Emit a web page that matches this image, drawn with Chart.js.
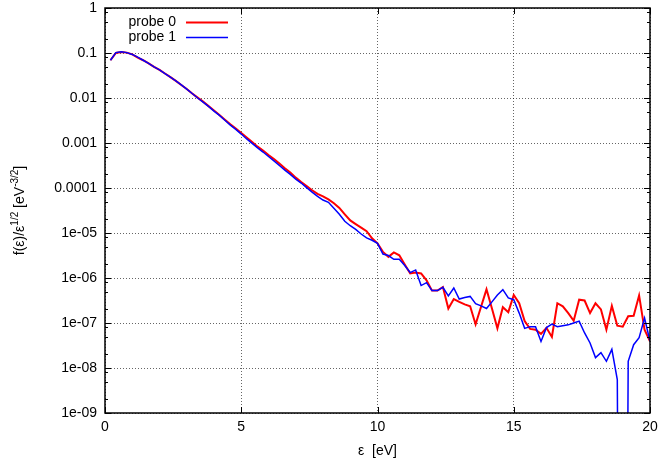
<!DOCTYPE html>
<html>
<head>
<meta charset="utf-8">
<script src="https://cdn.jsdelivr.net/npm/chart.js@4/dist/chart.umd.min.js"></script>
<style>
  html, body { margin: 0; padding: 0; background: #fff; }
  #wrap { width: 660px; height: 465px; position: relative; }
</style>
</head>
<body>
<div id="wrap"><canvas id="c" width="660" height="465"></canvas></div>
<script>
// Energy grid [eV]
const energy = [
  0.2, 0.4, 0.6, 0.8, 1.0, 1.2, 1.4, 1.6, 1.8, 2.0,
  2.2, 2.4, 2.6, 2.8, 3.0, 3.2, 3.4, 3.6, 3.8, 4.0,
  4.2, 4.4, 4.6, 4.8, 5.0, 5.2, 5.4, 5.6, 5.8, 6.0,
  6.2, 6.4, 6.6, 6.8, 7.0, 7.2, 7.4, 7.6, 7.8, 8.0,
  8.2, 8.4, 8.6, 8.8, 9.0, 9.2, 9.4, 9.6, 9.8, 10.0,
  10.2, 10.4, 10.6, 10.8, 11.0, 11.2, 11.4, 11.6, 11.8, 12.0,
  12.2, 12.4, 12.6, 12.8, 13.0, 13.2, 13.4, 13.6, 13.8, 14.0,
  14.2, 14.4, 14.6, 14.8, 15.0, 15.2, 15.4, 15.6, 15.8, 16.0,
  16.2, 16.4, 16.6, 16.8, 17.0, 17.2, 17.4, 17.6, 17.8, 18.0,
  18.2, 18.4, 18.6, 18.8, 19.0, 19.2, 19.4, 19.6, 19.8, 20.0
];

// f(eps)/sqrt(eps) [eV^-3/2], probe 0
const probe0 = [
  6.9e-2, 1.0e-1, 1.05e-1, 1.02e-1, 9.3e-2, 7.9e-2, 6.9e-2, 5.9e-2, 4.9e-2, 4.2e-2,
  3.5e-2, 2.9e-2, 2.4e-2, 1.95e-2, 1.58e-2, 1.26e-2, 1.02e-2, 8.3e-3, 6.6e-3, 5.25e-3,
  4.2e-3, 3.3e-3, 2.6e-3, 2.1e-3, 1.66e-3, 1.32e-3, 1.05e-3, 8.3e-4, 6.8e-4, 5.4e-4,
  4.4e-4, 3.5e-4, 2.75e-4, 2.2e-4, 1.7e-4, 1.35e-4, 1.1e-4, 8.9e-5, 7.4e-5, 6.5e-5,
  5.6e-5, 4.6e-5, 3.6e-5, 2.6e-5, 1.9e-5, 1.58e-5, 1.32e-5, 1.1e-5, 7.6e-6, 5.9e-6,
  3.8e-6, 2.95e-6, 3.7e-6, 3.2e-6, 2.0e-6, 1.26e-6, 1.32e-6, 1.26e-6, 8.9e-7, 5.25e-7,
  5.25e-7, 6.3e-7, 2.1e-7, 3.4e-7, 2.95e-7, 2.6e-7, 2.35e-7, 9.3e-8, 2.3e-7, 5.6e-7,
  2.1e-7, 7.6e-8, 2.25e-7, 1.74e-7, 4.2e-7, 2.75e-7, 1.1e-7, 7.4e-8, 7.1e-8, 5.75e-8,
  7.8e-8, 4.9e-8, 2.75e-7, 2.35e-7, 1.66e-7, 1.12e-7, 3.3e-7, 3.16e-7, 1.66e-7, 2.75e-7,
  2.0e-7, 7.1e-8, 2.4e-7, 8.7e-8, 8.3e-8, 1.41e-7, 1.45e-7, 4.1e-7, 7.1e-8, 3.9e-8
];

// f(eps)/sqrt(eps) [eV^-3/2], probe 1 (the 19 eV bin is essentially empty)
const probe1 = [
  6.9e-2, 1.02e-1, 1.07e-1, 1.02e-1, 9.3e-2, 8.1e-2, 6.9e-2, 5.9e-2, 4.9e-2, 4.2e-2,
  3.5e-2, 2.9e-2, 2.4e-2, 1.95e-2, 1.58e-2, 1.26e-2, 1.0e-2, 8.1e-3, 6.5e-3, 5.1e-3,
  4.1e-3, 3.2e-3, 2.5e-3, 2.0e-3, 1.58e-3, 1.23e-3, 9.8e-4, 7.8e-4, 6.3e-4, 5.0e-4,
  4.0e-4, 3.16e-4, 2.5e-4, 2.0e-4, 1.58e-4, 1.29e-4, 1.02e-4, 8.1e-5, 6.5e-5, 5.4e-5,
  4.8e-5, 3.55e-5, 2.6e-5, 1.82e-5, 1.45e-5, 1.2e-5, 9.5e-6, 7.8e-6, 6.9e-6, 5.9e-6,
  3.4e-6, 3.16e-6, 2.6e-6, 2.6e-6, 1.9e-6, 1.32e-6, 1.51e-6, 6.8e-7, 7.9e-7, 5.25e-7,
  5.25e-7, 6.2e-7, 4.0e-7, 6.0e-7, 3.4e-7, 3.7e-7, 3.9e-7, 2.7e-7, 2.4e-7, 2.1e-7,
  2.95e-7, 4.2e-7, 5.5e-7, 3.6e-7, 3.3e-7, 1.66e-7, 7.6e-8, 8.3e-8, 8.3e-8, 3.9e-8,
  7.9e-8, 9.5e-8, 8.3e-8, 8.7e-8, 9.1e-8, 1.0e-7, 1.1e-7, 6.0e-8, 3.6e-8, 1.7e-8,
  2.2e-8, 1.41e-8, 2.6e-8, 5.5e-9, 1e-30, 1.41e-8, 3.3e-8, 4.7e-8, 1.29e-7, 3.9e-8
];

const seriesNames = ['probe 0', 'probe 1'];
const xTickValues = [0, 5, 10, 15, 20];
const xTickLabels = ['0', '5', '10', '15', '20'];
const yTickValues = [1, 0.1, 0.01, 0.001, 1e-4, 1e-5, 1e-6, 1e-7, 1e-8, 1e-9];
const yTickLabels = ['1', '0.1', '0.01', '0.001', '0.0001', '1e-05', '1e-06', '1e-07', '1e-08', '1e-09'];

const FONT = '"Liberation Sans", Arial, Helvetica, sans-serif';
const colors = ['#ff0000', '#0000ff'];
const widths = [2, 1.5];

function pts(vals) {
  return energy.map((e, i) => ({ x: e, y: vals[i] }));
}

// Frame, inward tick marks, legend and axis titles in gnuplot style
const decor = {
  id: 'decor',
  afterDraw(chart) {
    const ctx = chart.ctx;
    const a = chart.chartArea;
    const xs = chart.scales.x, ys = chart.scales.y;
    ctx.save();
    ctx.strokeStyle = '#000';
    ctx.lineWidth = 1;

    // tick marks on all four sides
    ctx.beginPath();
    xTickValues.forEach(v => {
      const px = Math.round(xs.getPixelForValue(v)) + 0.5;
      ctx.moveTo(px, a.bottom); ctx.lineTo(px, a.bottom - 6);
      ctx.moveTo(px, a.top); ctx.lineTo(px, a.top + 6);
    });
    yTickValues.forEach((v, i) => {
      const py = Math.round(ys.getPixelForValue(v)) + 0.5;
      ctx.moveTo(a.left, py); ctx.lineTo(a.left + 6, py);
      ctx.moveTo(a.right, py); ctx.lineTo(a.right - 6, py);
      if (i > 0) {
        [0.8, 0.5, 0.2].forEach(f => {
          const my = Math.round(ys.getPixelForValue(yTickValues[i - 1] * f)) + 0.5;
          ctx.moveTo(a.left, my); ctx.lineTo(a.left + 3, my);
          ctx.moveTo(a.right, my); ctx.lineTo(a.right - 3, my);
        });
      }
    });
    ctx.stroke();

    // border
    ctx.lineWidth = 1.5;
    ctx.strokeRect(a.left, a.top, a.right - a.left, a.bottom - a.top);

    // legend
    ctx.font = '14px ' + FONT;
    ctx.fillStyle = '#000';
    ctx.textAlign = 'right';
    ctx.textBaseline = 'middle';
    seriesNames.forEach((name, i) => {
      const y = 22.5 + i * 15;
      ctx.fillText(name, 176, y);
      ctx.strokeStyle = colors[i];
      ctx.lineWidth = widths[i];
      ctx.beginPath();
      ctx.moveTo(186, y); ctx.lineTo(228, y);
      ctx.stroke();
    });

    // x title
    ctx.fillStyle = '#000';
    ctx.textAlign = 'center';
    ctx.textBaseline = 'middle';
    ctx.font = '14px ' + FONT;
    ctx.fillText('\u03b5  [eV]', (a.left + a.right) / 2, 451);

    // y title with superscripts
    const parts = [
      { t: 'f(\u03b5)/\u03b5', sup: false },
      { t: '1/2', sup: true },
      { t: ' [eV', sup: false },
      { t: '-3/2', sup: true },
      { t: ']', sup: false }
    ];
    const big = '14px ' + FONT, small = '10px ' + FONT;
    let total = 0;
    parts.forEach(p => { ctx.font = p.sup ? small : big; p.w = ctx.measureText(p.t).width; total += p.w; });
    ctx.translate(20, (a.top + a.bottom) / 2);
    ctx.rotate(-Math.PI / 2);
    ctx.textAlign = 'left';
    ctx.textBaseline = 'middle';
    let cx = -total / 2;
    parts.forEach(p => {
      ctx.font = p.sup ? small : big;
      ctx.fillText(p.t, cx, p.sup ? -5 : 0);
      cx += p.w;
    });
    ctx.restore();
  }
};

new Chart(document.getElementById('c'), {
  type: 'line',
  data: {
    datasets: [
      { label: seriesNames[0], data: pts(probe0), borderColor: colors[0], borderWidth: widths[0], order: 2 },
      { label: seriesNames[1], data: pts(probe1), borderColor: colors[1], borderWidth: widths[1], order: 1 }
    ]
  },
  options: {
    responsive: false,
    animation: false,
    layout: { padding: { top: 8, right: 10, left: 0, bottom: 0 } },
    elements: { point: { radius: 0 }, line: { tension: 0, borderJoinStyle: 'miter' } },
    plugins: { legend: { display: false }, tooltip: { enabled: false } },
    scales: {
      x: {
        type: 'linear',
        min: 0, max: 20,
        afterBuildTicks: s => { s.ticks = xTickValues.map(v => ({ value: v })); },
        afterFit: s => { s.height = 52; s.paddingLeft = 0; s.paddingRight = 0; },
        ticks: {
          padding: 6,
          color: '#000',
          font: { family: FONT, size: 14 },
          maxRotation: 0,
          callback: (v, i) => xTickLabels[i]
        },
        grid: { color: 'rgba(0,0,0,0.6)', lineWidth: 1, drawTicks: false },
        border: { display: false, dash: [1, 2] }
      },
      y: {
        type: 'logarithmic',
        min: 1e-9, max: 1,
        afterBuildTicks: s => { s.ticks = yTickValues.map(v => ({ value: v })); },
        afterFit: s => { s.width = 105; s.paddingTop = 0; s.paddingBottom = 0; },
        ticks: {
          padding: 8,
          color: '#000',
          font: { family: FONT, size: 14 },
          callback: (v, i) => yTickLabels[i]
        },
        grid: { color: 'rgba(0,0,0,0.6)', lineWidth: 1, drawTicks: false },
        border: { display: false, dash: [1, 2] }
      }
    }
  },
  plugins: [decor]
});
</script>
</body>
</html>
